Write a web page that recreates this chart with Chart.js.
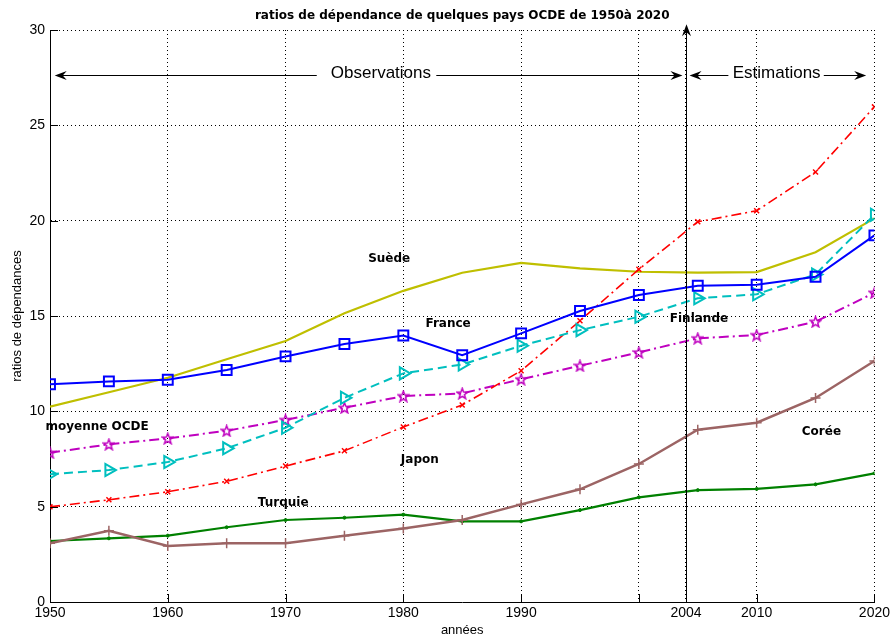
<!DOCTYPE html>
<html><head><meta charset="utf-8">
<script src="https://cdn.jsdelivr.net/npm/chart.js@4"></script>
<style>html,body{margin:0;padding:0;background:#fff}#wrap{width:893px;height:642px}</style>
</head><body><div id="wrap"><canvas id="c" width="893" height="642"></canvas></div>
<script>
// ---- data ----
const years = [1950,1955,1960,1965,1970,1975,1980,1985,1990,1995,2000,2005,2010,2015,2020];
const france   = [11.42,11.57,11.66,12.17,12.88,13.53,13.98,12.94,14.09,15.26,16.10,16.59,16.64,17.06,19.23];
const suede    = [10.24,11.00,11.76,12.73,13.69,15.15,16.32,17.27,17.79,17.50,17.32,17.27,17.30,18.34,20.12];
const japon    = [4.99,5.36,5.78,6.33,7.13,7.93,9.18,10.33,12.13,14.75,17.45,19.94,20.52,22.55,25.97];
const finlande = [6.70,6.92,7.34,8.06,9.14,10.71,11.99,12.46,13.44,14.26,14.96,15.93,16.14,17.18,20.31];
const ocde     = [7.83,8.27,8.58,8.98,9.55,10.19,10.80,10.94,11.68,12.39,13.09,13.83,14.00,14.70,16.22];
const coree    = [3.08,3.74,2.94,3.08,3.08,3.48,3.86,4.30,5.12,5.91,7.24,9.04,9.40,10.70,12.64];
const turquie  = [3.20,3.34,3.48,3.92,4.30,4.42,4.58,4.23,4.23,4.82,5.49,5.87,5.93,6.17,6.75];
const xTicks = [1950,1960,1970,1980,1990,2000,2004,2010,2020];
const xTickLabels = ['1950','1960','1970','1980','1990','','2004','2010','2020'];
const yTicks = [0,5,10,15,20,25,30];
const seriesNames = ['Suède','France','Finlande','moyenne OCDE','Japon','Turquie','Corée'];
const titleText = 'ratios de dépendance de quelques pays OCDE de 1950à 2020';
const xTitle = 'années';
const yTitle = 'ratios de dépendances';
const splitYear = 2004;

// ---- label placement (data units) ----
const labelAt = {
  'Suède':[1978.8,17.99], 'France':[1983.8,14.58], 'Finlande':[2005.1,14.84],
  'moyenne OCDE':[1954.0,9.18], 'Japon':[1981.4,7.45], 'Turquie':[1969.8,5.21], 'Corée':[2015.5,8.91]
};

function pts(vals){ return years.map((yr,i)=>({x:yr,y:vals[i]})); }
function starCanvas(color){
  const c=document.createElement('canvas'); c.width=13; c.height=13;
  const g=c.getContext('2d'); g.strokeStyle=color; g.lineWidth=1.5;
  g.beginPath();
  for(let i=0;i<10;i++){const r=i%2?2.3:5.6;const a=-Math.PI/2+i*Math.PI/5;const px=6.5+r*Math.cos(a),py=7+r*Math.sin(a);i?g.lineTo(px,py):g.moveTo(px,py);}
  g.closePath(); g.stroke(); return c;
}
const none='rgba(0,0,0,0)';
const dashDot=[10,4,2,4];

function arrowHead(ctx,tx,ty,dx,dy){
  const L=12,w=4.5,n=4; const nx=-dy,ny=dx;
  ctx.beginPath();
  ctx.moveTo(tx,ty);
  ctx.lineTo(tx-L*dx+w*nx,ty-L*dy+w*ny);
  ctx.lineTo(tx-(L-n)*dx,ty-(L-n)*dy);
  ctx.lineTo(tx-L*dx-w*nx,ty-L*dy-w*ny);
  ctx.closePath(); ctx.fill();
}

const annot={
  id:'annot',
  afterDraw(chart){
    const {ctx,scales:{x,y},chartArea:ca}=chart;
    ctx.save();
    ctx.strokeStyle='#000'; ctx.fillStyle='#000'; ctx.lineWidth=1;
    // inward ticks
    ctx.beginPath();
    xTicks.forEach(v=>{const px=Math.round(x.getPixelForValue(v))+0.5;ctx.moveTo(px,ca.bottom);ctx.lineTo(px,ca.bottom-8);});
    yTicks.forEach(v=>{const py=Math.round(y.getPixelForValue(v))+0.5;ctx.moveTo(ca.left,py);ctx.lineTo(ca.left+8,py);});
    ctx.stroke();
    // vertical split line with arrow
    const sx=Math.round(x.getPixelForValue(splitYear))+0.5;
    const topY=y.getPixelForValue(30.3);
    ctx.beginPath(); ctx.moveTo(sx,ca.bottom); ctx.lineTo(sx,topY+6); ctx.stroke();
    arrowHead(ctx,sx,topY,0,-1);
    // horizontal arrows
    const ay=Math.round(y.getPixelForValue(27.65))+0.5;
    const X=v=>x.getPixelForValue(v);
    ctx.beginPath();
    ctx.moveTo(X(1950.4)+6,ay); ctx.lineTo(X(1972.65),ay);
    ctx.moveTo(X(1982.8),ay); ctx.lineTo(X(2003.7)-6,ay);
    ctx.moveTo(X(2004.3)+6,ay); ctx.lineTo(X(2007.6),ay);
    ctx.moveTo(X(2015.7),ay); ctx.lineTo(X(2019.3)-6,ay);
    ctx.stroke();
    arrowHead(ctx,X(1950.4),ay,-1,0);
    arrowHead(ctx,X(2003.7),ay,1,0);
    arrowHead(ctx,X(2004.3),ay,-1,0);
    arrowHead(ctx,X(2019.3),ay,1,0);
    ctx.font='17px "Liberation Sans", Arial, sans-serif';
    ctx.textAlign='center'; ctx.textBaseline='middle';
    ctx.fillText('Observations',X(1978.1),ay-2);
    ctx.fillText('Estimations',X(2011.7),ay-2);
    // series labels
    ctx.font='bold 12px "DejaVu Sans", sans-serif';
    seriesNames.forEach(n=>{const p=labelAt[n];ctx.fillText(n,X(p[0]),y.getPixelForValue(p[1]));});
    ctx.restore();
  }
};

const tickFont={family:'"Liberation Sans Narrow", "Liberation Sans", Arial',size:14};
const gridCfg={color:'#000',lineWidth:1,drawTicks:false};
const borderCfg={display:true,color:'#000',width:1,dash:[1,3]};

new Chart(document.getElementById('c'),{
  type:'line',
  data:{datasets:[
    {label:'France',data:pts(france),borderColor:'#0000FF',borderWidth:2,pointStyle:'rect',pointRadius:7,pointBorderWidth:2,pointBackgroundColor:none,pointBorderColor:'#0000FF'},
    {label:'Finlande',data:pts(finlande),borderColor:'#00BFBF',borderWidth:2,borderDash:[9,5],pointStyle:'triangle',pointRotation:90,pointRadius:7,pointBorderWidth:2,pointBackgroundColor:none,pointBorderColor:'#00BFBF'},
    {label:'Japon',data:pts(japon),borderColor:'#FF0000',borderWidth:1.6,borderDash:dashDot,pointStyle:'crossRot',pointRadius:3.5,pointBorderWidth:1.5,pointBorderColor:'#FF0000'},
    {label:'moyenne OCDE',data:pts(ocde),borderColor:'#BF00BF',borderWidth:2,borderDash:dashDot,pointStyle:starCanvas('#BF00BF'),pointRadius:6},
    {label:'Suède',data:pts(suede),borderColor:'#BFBF00',borderWidth:2.2,pointRadius:0},
    {label:'Corée',data:pts(coree),borderColor:'#9C6464',borderWidth:2.5,pointStyle:'cross',pointRadius:5,pointBorderWidth:1.5,pointBorderColor:'#9C6464'},
    {label:'Turquie',data:pts(turquie),borderColor:'#008000',borderWidth:2.2,pointStyle:'circle',pointRadius:1.5,pointBackgroundColor:'#008000',pointBorderColor:'#008000',pointBorderWidth:1}
  ]},
  options:{
    responsive:false,animation:false,devicePixelRatio:1,
    layout:{padding:{left:0,right:18,top:0,bottom:0}},
    elements:{line:{tension:0,fill:false}},
    plugins:{
      legend:{display:false},tooltip:{enabled:false},
      title:{display:true,text:titleText,fullSize:false,color:'#000',font:{family:'"DejaVu Sans"',size:12,weight:'bold'},padding:{top:9,bottom:6.6}}
    },
    scales:{
      x:{type:'linear',min:1950,max:2020,
        afterBuildTicks:s=>{s.ticks=xTicks.map(v=>({value:v}));},
        afterFit:s=>{s.height=40;},
        ticks:{autoSkip:false,maxRotation:0,color:'#000',font:tickFont,padding:3,callback:(v,i)=>xTickLabels[i]},
        grid:gridCfg,border:borderCfg,
        title:{display:true,text:xTitle,color:'#000',font:{family:'"Liberation Sans"',size:13},padding:{top:0,bottom:4}}
      },
      y:{min:0,max:30,
        afterBuildTicks:s=>{s.ticks=yTicks.map(v=>({value:v}));},
        afterFit:s=>{s.width=50;},
        ticks:{color:'#000',font:tickFont,padding:5},
        grid:gridCfg,border:borderCfg,
        title:{display:true,text:yTitle,color:'#000',font:{family:'"Liberation Sans"',size:13},padding:{top:10,bottom:0}}
      }
    }
  },
  plugins:[annot]
});
</script></body></html>
